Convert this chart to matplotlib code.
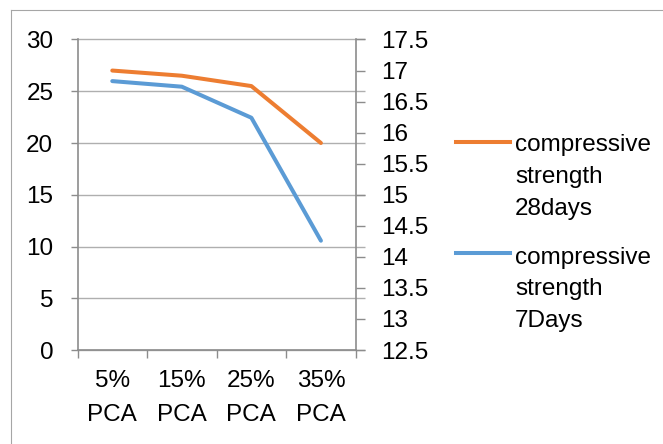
import matplotlib
matplotlib.use('Agg')
import matplotlib.pyplot as plt
from matplotlib.lines import Line2D
from matplotlib.ticker import FuncFormatter

# chart data
categories = ['5%\nPCA', '15%\nPCA', '25%\nPCA', '35%\nPCA']
strength_28 = [27.0, 26.5, 25.5, 20.0]
strength_7 = [16.83, 16.74, 16.24, 14.26]
label_28 = 'compressive\nstrength\n28days'
label_7 = 'compressive\nstrength\n7Days'
left_ticks = [0, 5, 10, 15, 20, 25, 30]
right_ticks = [12.5, 13, 13.5, 14, 14.5, 15, 15.5, 16, 16.5, 17, 17.5]

W, H = 663, 444
ORANGE = '#ED7D31'
BLUE = '#5B9BD5'
AXIS = '#8C8C8C'
GRID = '#AFAFAF'

plt.rcParams['font.family'] = ['Liberation Sans', 'DejaVu Sans']
plt.rcParams['font.size'] = 17.5


def main():
    fig = plt.figure(figsize=(W / 100, H / 100), dpi=100)
    ax = fig.add_axes([77.5 / W, 1 - 350 / H, (355.7 - 77.5) / W, (350 - 39.5) / H])
    ax2 = ax.twinx()

    x = list(range(len(categories)))
    ax.plot(x, strength_28, color=ORANGE, lw=2.9, solid_capstyle='round', zorder=3)
    ax2.plot(x, strength_7, color=BLUE, lw=2.9, solid_capstyle='round', zorder=3)

    ax.set_xlim(-0.5, len(categories) - 0.5)
    ax.set_ylim(0, 30)
    ax2.set_ylim(12.5, 17.5)

    # gridlines, running a bit past the right axis like the original
    ax.hlines(left_ticks, 0, 1 + 9.5 / (355.7 - 77.5), transform=ax.get_yaxis_transform(),
              colors=GRID, lw=1.0, clip_on=False, zorder=0.5)

    for s in ['top', 'right']:
        ax.spines[s].set_visible(False)
    for s in ['left', 'bottom']:
        ax.spines[s].set_color(AXIS)
        ax.spines[s].set_linewidth(1.2)
    for s in ['top', 'left', 'bottom']:
        ax2.spines[s].set_visible(False)
    ax2.spines['right'].set_color(AXIS)
    ax2.spines['right'].set_linewidth(1.2)

    ax.set_yticks(left_ticks)
    ax.tick_params(axis='y', length=5.4, width=1.0, color=AXIS, pad=12)
    ax2.set_yticks(right_ticks)
    ax2.yaxis.set_major_formatter(FuncFormatter(lambda v, p: f'{v:g}'))
    ax2.tick_params(axis='y', length=6.8, width=1.0, color=AXIS, pad=11.5)

    ax.set_xticks(x)
    ax.set_xticklabels(categories, linespacing=1.72)
    ax.set_xticks([i - 0.5 for i in range(len(categories) + 1)], minor=True)
    ax.tick_params(axis='x', which='major', length=0, pad=14.5)
    ax.tick_params(axis='x', which='minor', length=5.8, width=1.0, color=AXIS)

    # legend drawn by hand so the sample line sits on the first text line
    # (text y is the baseline of the last line)
    for y_line, y_text, col, lab in [(141.7, 214.5, ORANGE, label_28), (253.3, 327.0, BLUE, label_7)]:
        fig.add_artist(Line2D([456 / W, 510 / W], [1 - y_line / H] * 2, transform=fig.transFigure,
                              color=col, lw=2.9))
        fig.text(515 / W, 1 - y_text / H, lab, ha='left', va='baseline', linespacing=1.56)

    # chart area border (only top and left edges are visible in the crop)
    fig.add_artist(Line2D([10.5 / W, 10.5 / W], [0, 1 - 10.5 / H], transform=fig.transFigure,
                          color='#A6A6A6', lw=0.8))
    fig.add_artist(Line2D([10.5 / W, 1], [1 - 10.5 / H] * 2, transform=fig.transFigure,
                          color='#A6A6A6', lw=0.8))

    fig.savefig('out.png', dpi=100)


if __name__ == "__main__":
    main()
